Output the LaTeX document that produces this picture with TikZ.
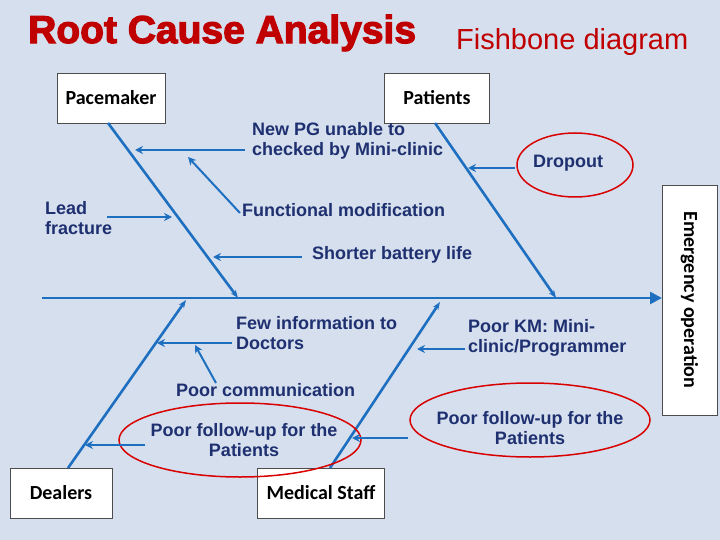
\documentclass[tikz,border=0pt]{standalone}
\usepackage{fontspec}
\setmainfont{Liberation Sans}
\newfontfamily\carl{Carlito}
\usetikzlibrary{arrows.meta}
\definecolor{bg}{HTML}{D5DFEE}
\definecolor{bl}{HTML}{1F6FC0}
\definecolor{tx}{HTML}{1F3070}
\definecolor{rd}{HTML}{C00000}
\begin{document}
\begin{tikzpicture}[x=1pt,y=-1pt,
 cat/.style={draw=black!70,fill=white,minimum width=108pt,minimum height=50pt,font=\carl\bfseries\fontsize{20}{22}\selectfont},
 lbl/.style={font=\bfseries\fontsize{18}{20}\selectfont,text=tx,align=left,inner sep=0pt},
 bone/.style={bl,line width=2.6pt},
 arr/.style={bl,line width=2pt,-{Stealth[length=8pt,width=8pt]}},
 ell/.style={draw=red!85!black,line width=1.5pt}]
\fill[bg] (0,0) rectangle (720,540);
\useasboundingbox (0,0) rectangle (720,540);
\node[anchor=west,text=rd,inner sep=0pt] (t1) at (28,33) {\fontsize{39}{42}\selectfont\bfseries\addfontfeature{FakeBold=3}Root Cause Analysis};
\node[anchor=west,text=rd,inner sep=0pt] (t2) at (456,42) {\fontsize{29}{32}\selectfont Fishbone diagram};
\node[cat] (pm) at (111,98) {Pacemaker};
\node[cat,minimum width=105pt] (pa) at (437,98) {Patients};
\node[cat,minimum width=102pt] (de) at (61,493) {Dealers};
\node[cat,minimum width=127pt] (ms) at (321,493) {Medical Staff};
\node[draw=black!70,fill=white,minimum width=230pt,minimum height=55pt,rotate=-90,font=\carl\bfseries\fontsize{20}{22}\selectfont] (eo) at (689.5,300) {Emergency operation};
\coordinate (s0) at (42,298);
\coordinate (s1) at (662,298);
\draw[bone,-{Triangle[length=12pt,width=12pt]}] (s0) -- (s1);
\coordinate (p1) at (238,298); \coordinate (p2) at (556,298);
\coordinate (d1) at (186,300); \coordinate (m1) at (440,302);
\draw[bone,-{Stealth[length=8pt]}] (108,123) -- (p1);
\draw[bone,-{Stealth[length=8pt]}] (435,123) -- (p2);
\draw[bone,-{Stealth[length=8pt]}] (68,468) -- (d1);
\draw[bone,-{Stealth[length=8pt]}] (330,468) -- (m1);
\node[lbl,anchor=north west] (n1) at (252,122) {New PG unable to\\checked by Mini-clinic};
\draw[arr] (245,150) -- (135,150);
\node[lbl,anchor=west] (n2) at (242,210) {Functional modification};
\draw[arr] (240,213) -- (188,157);
\node[lbl,anchor=west] (n3) at (45,218) {Lead\\fracture};
\draw[arr] (107,217) -- (172,217);
\node[lbl,anchor=west] (n4) at (312,255) {Shorter battery life};
\draw[arr] (302,257) -- (213,257);
\node[lbl,anchor=west] (n5) at (533,163) {Dropout};
\draw[ell] (575,165) ellipse [x radius=58,y radius=32];
\draw[arr] (515,168) -- (468,168);
\node[lbl,anchor=west] (n6) at (236,333) {Few information to\\Doctors};
\draw[arr] (232,343) -- (157,343);
\node[lbl,anchor=west] (n7) at (176,390) {Poor communication};
\draw[arr] (216,383) -- (195,345);
\node[lbl,align=center] (n8) at (244,440) {Poor follow-up for the\\Patients};
\draw[ell] (240,440) ellipse [x radius=121,y radius=37];
\draw[arr] (145,445) -- (85,445);
\node[lbl,anchor=west] (n9) at (468,338) {Poor KM: Mini-\\clinic/Programmer};
\draw[arr] (465,349) -- (417,349);
\node[lbl,align=center] (n10) at (530,428) {Poor follow-up for the\\Patients};
\draw[ell] (530,420) ellipse [x radius=120,y radius=37];
\draw[arr] (408,438) -- (352,438);
\end{tikzpicture}
\end{document}
